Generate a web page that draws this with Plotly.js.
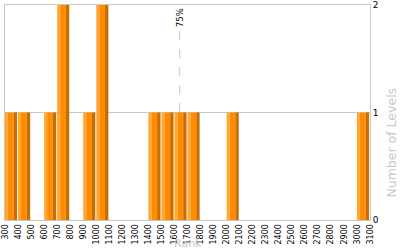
<!DOCTYPE html>
<html>
<head>
<meta charset="utf-8">
<script src="https://cdn.plot.ly/plotly-3.0.1.min.js"></script>
<style>html,body{margin:0;padding:0;background:#fff;}#chart{width:400px;height:250px;}</style>
</head>
<body>
<div id="chart"></div>
<script>
// Histogram bins (start of each 100-wide Rank bin) and the number of levels in each
const binStarts = [300, 400, 600, 700, 900, 1000, 1400, 1500, 1600, 1700, 2000, 3000];
const levelCounts = [1, 1, 1, 2, 1, 2, 1, 1, 1, 1, 1, 1];
const tickValues = [300,400,500,600,700,800,900,1000,1100,1200,1300,1400,1500,1600,1700,1800,1900,2000,2100,2200,2300,2400,2500,2600,2700,2800,2900,3000,3100];
const percentile75 = 1640;

const font = 'DejaVu Sans, Verdana, sans-serif';
function part(color, offset, width) {
  return {
    type: 'bar', x: binStarts, y: levelCounts,
    offset: offset, width: width,
    marker: {color: color, line: {width: 0}},
    hoverinfo: 'skip', showlegend: false
  };
}
const traces = [
  part('#ffa733', 0, 23),
  part('#ff8c00', 23, 44),
  part('#c86e00', 67, 26)
];

const layout = {
  width: 400, height: 250,
  margin: {l: 5, r: 30, t: 5, b: 30},
  paper_bgcolor: '#fff', plot_bgcolor: '#fff',
  barmode: 'overlay',
  font: {family: font, size: 8, color: '#000'},
  xaxis: {
    range: [300, 3100], tickvals: tickValues, ticktext: tickValues.map(String),
    tickangle: -90, ticks: '', tickfont: {size: 8, color: '#000'},
    ticklabeloverflow: 'allow', automargin: false,
    showgrid: false, zeroline: false,
    showline: true, linecolor: '#c8c8c8', linewidth: 1, mirror: true
  },
  yaxis: {
    side: 'right', range: [0, 2], tickvals: [0, 1, 2],
    ticks: '', tickfont: {size: 9, color: '#000'},
    ticklabeloverflow: 'allow', automargin: false,
    showgrid: true, gridcolor: '#c8c8c8', zeroline: false,
    showline: true, linecolor: '#c8c8c8', linewidth: 1, mirror: true
  },
  shapes: [{
    type: 'line', xref: 'x', yref: 'paper', x0: percentile75, x1: percentile75, y0: 0, y1: 0.885,
    line: {color: '#c8c8c8', width: 1, dash: 'dash'}, layer: 'below'
  }],
  annotations: [
    {text: '75%', xref: 'x', yref: 'paper', x: percentile75, y: 1, yanchor: 'top', xanchor: 'center',
     textangle: -90, showarrow: false, font: {size: 8.5, color: '#000'}, yshift: -1},
    {text: 'Number of Levels', xref: 'paper', yref: 'paper', x: 1, y: 0.36, xanchor: 'center', yanchor: 'middle',
     xshift: 22, textangle: -90, showarrow: false, font: {size: 12.5, color: '#c8c8c8'}},
    {text: 'Rank', xref: 'paper', yref: 'paper', x: 0.50, y: -0.147, xanchor: 'center', yanchor: 'bottom',
     showarrow: false, font: {size: 11, color: '#c8c8c8'}}
  ]
};
Plotly.newPlot('chart', traces, layout, {displayModeBar: false, staticPlot: true});
</script>
</body>
</html>
